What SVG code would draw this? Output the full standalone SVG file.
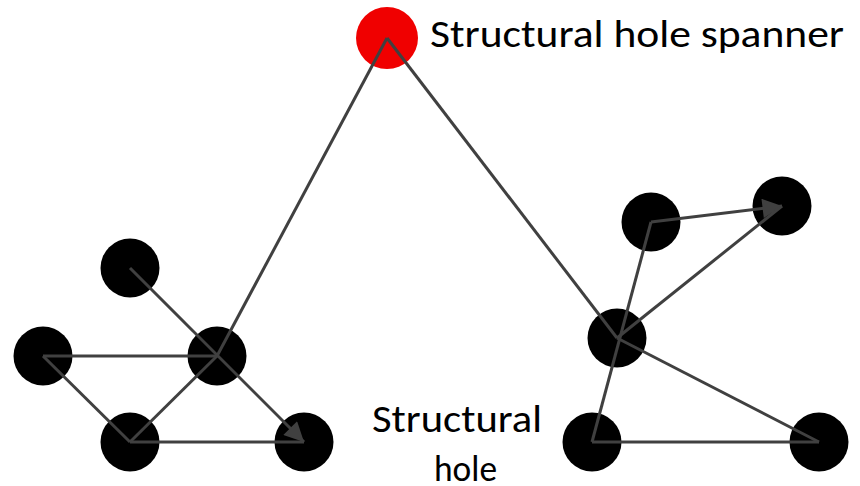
<svg xmlns="http://www.w3.org/2000/svg" width="860" height="486" viewBox="0 0 860 486">
<style>
.node{fill:#000000}
.spanner{fill:#f00000}
.edge{stroke:#404040;stroke-width:3;fill:none}
.lbl{font-family:Carlito,"Open Sans","Liberation Sans",sans-serif;font-size:39px;fill:#000000}
.lbl2{font-family:Carlito,"Open Sans","Liberation Sans",sans-serif;font-size:39px;fill:#000000}
.lbl3{font-family:Carlito,"Open Sans","Liberation Sans",sans-serif;font-size:37px;fill:#000000}
</style>
<defs>
<marker id="arr" viewBox="0 0 10 10" refX="10" refY="5" markerWidth="7.5" markerHeight="6.5" markerUnits="strokeWidth" orient="auto">
<path d="M0,0 L10,5 L0,10 z" fill="#404040"/>
</marker>
</defs>
<g id="nodes">
<g id="n-spanner"><circle class="spanner" cx="387" cy="38" r="31"/></g>
<g id="n-a"><circle class="node" cx="130" cy="268" r="29.5"/></g>
<g id="n-b"><circle class="node" cx="43" cy="356" r="29.5"/></g>
<g id="n-c"><circle class="node" cx="217" cy="356" r="29.5"/></g>
<g id="n-d"><circle class="node" cx="130" cy="442" r="29.5"/></g>
<g id="n-e"><circle class="node" cx="304" cy="442" r="29.5"/></g>
<g id="n-f"><circle class="node" cx="651" cy="222" r="29.5"/></g>
<g id="n-g"><circle class="node" cx="782" cy="206" r="29.5"/></g>
<g id="n-h"><circle class="node" cx="617" cy="338" r="29.5"/></g>
<g id="n-i"><circle class="node" cx="592" cy="442" r="29.5"/></g>
<g id="n-j"><circle class="node" cx="819" cy="442" r="29.5"/></g>
</g>
<g id="connectors">
<line class="edge" x1="387" y1="38" x2="217" y2="356"/>
<line class="edge" x1="387" y1="38" x2="617" y2="338"/>
<line class="edge" x1="130" y1="268" x2="304" y2="442" marker-end="url(#arr)"/>
<line class="edge" x1="43" y1="356" x2="217" y2="356"/>
<line class="edge" x1="43" y1="356" x2="130" y2="442"/>
<line class="edge" x1="130" y1="442" x2="217" y2="356"/>
<line class="edge" x1="130" y1="442" x2="304" y2="442"/>
<line class="edge" x1="651" y1="222" x2="782" y2="206" marker-end="url(#arr)"/>
<line class="edge" x1="651" y1="222" x2="592" y2="442"/>
<line class="edge" x1="617" y1="338" x2="782" y2="206"/>
<line class="edge" x1="617" y1="338" x2="819" y2="442"/>
<line class="edge" x1="592" y1="442" x2="819" y2="442"/>
</g>
<g id="labels">
<text class="lbl" x="430" y="47" textLength="414" lengthAdjust="spacingAndGlyphs">Structural hole spanner</text>
<text class="lbl2" x="372" y="432" textLength="170" lengthAdjust="spacingAndGlyphs">Structural</text>
<text class="lbl3" x="434" y="481" textLength="63" lengthAdjust="spacingAndGlyphs">hole</text>
</g>
</svg>
